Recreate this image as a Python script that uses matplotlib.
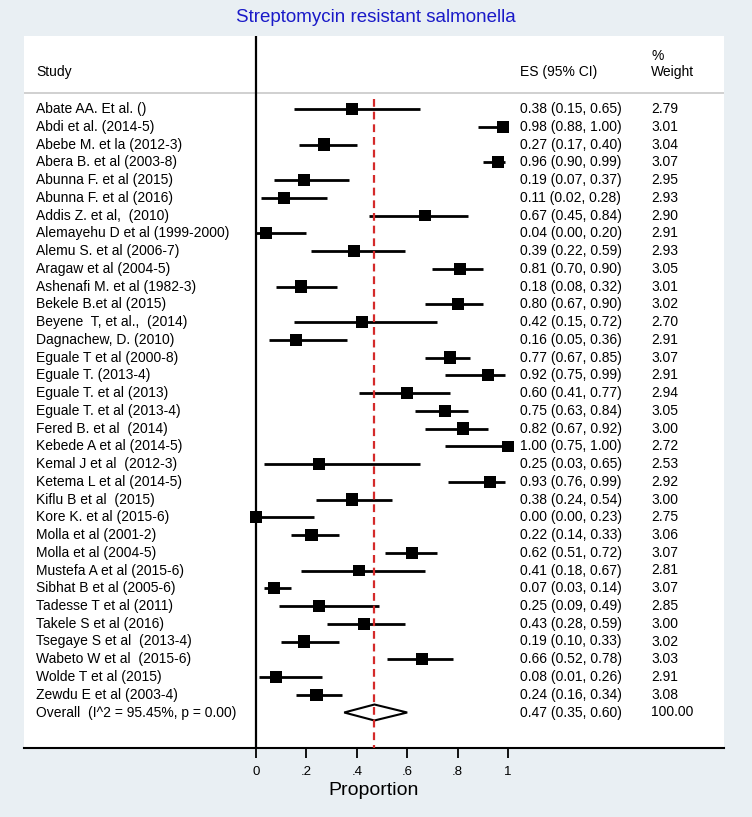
import matplotlib
matplotlib.use("Agg")
import matplotlib.pyplot as plt
from matplotlib.patches import Polygon
import numpy as np

plt.rcParams['font.family'] = ['Liberation Sans', 'DejaVu Sans']

studies = [
    "Abate AA. Et al. ()", "Abdi et al. (2014-5)", "Abebe M. et la (2012-3)",
    "Abera B. et al (2003-8)", "Abunna F. et al (2015)", "Abunna F. et al (2016)",
    "Addis Z. et al,  (2010)", "Alemayehu D et al (1999-2000)", "Alemu S. et al (2006-7)",
    "Aragaw et al (2004-5)", "Ashenafi M. et al (1982-3)", "Bekele B.et al (2015)",
    "Beyene  T, et al.,  (2014)", "Dagnachew, D. (2010)", "Eguale T et al (2000-8)",
    "Eguale T. (2013-4)", "Eguale T. et al (2013)", "Eguale T. et al (2013-4)",
    "Fered B. et al  (2014)", "Kebede A et al (2014-5)", "Kemal J et al  (2012-3)",
    "Ketema L et al (2014-5)", "Kiflu B et al  (2015)", "Kore K. et al (2015-6)",
    "Molla et al (2001-2)", "Molla et al (2004-5)", "Mustefa A et al (2015-6)",
    "Sibhat B et al (2005-6)", "Tadesse T et al (2011)", "Takele S et al (2016)",
    "Tsegaye S et al  (2013-4)", "Wabeto W et al  (2015-6)", "Wolde T et al (2015)",
    "Zewdu E et al (2003-4)",
]
es = [0.38, 0.98, 0.27, 0.96, 0.19, 0.11, 0.67, 0.04, 0.39, 0.81, 0.18, 0.80,
      0.42, 0.16, 0.77, 0.92, 0.60, 0.75, 0.82, 1.00, 0.25, 0.93, 0.38, 0.00,
      0.22, 0.62, 0.41, 0.07, 0.25, 0.43, 0.19, 0.66, 0.08, 0.24]
ci_low = [0.15, 0.88, 0.17, 0.90, 0.07, 0.02, 0.45, 0.00, 0.22, 0.70, 0.08, 0.67,
          0.15, 0.05, 0.67, 0.75, 0.41, 0.63, 0.67, 0.75, 0.03, 0.76, 0.24, 0.00,
          0.14, 0.51, 0.18, 0.03, 0.09, 0.28, 0.10, 0.52, 0.01, 0.16]
ci_high = [0.65, 1.00, 0.40, 0.99, 0.37, 0.28, 0.84, 0.20, 0.59, 0.90, 0.32, 0.90,
           0.72, 0.36, 0.85, 0.99, 0.77, 0.84, 0.92, 1.00, 0.65, 0.99, 0.54, 0.23,
           0.33, 0.72, 0.67, 0.14, 0.49, 0.59, 0.33, 0.78, 0.26, 0.34]
weights = [2.79, 3.01, 3.04, 3.07, 2.95, 2.93, 2.90, 2.91, 2.93, 3.05, 3.01, 3.02,
           2.70, 2.91, 3.07, 2.91, 2.94, 3.05, 3.00, 2.72, 2.53, 2.92, 3.00, 2.75,
           3.06, 3.07, 2.81, 3.07, 2.85, 3.00, 3.02, 3.03, 2.91, 3.08]
overall_label = "Overall  (I^2 = 95.45%, p = 0.00)"
overall_es, overall_lo, overall_hi, overall_w = 0.47, 0.35, 0.60, 100.00
xticks = [0, 0.2, 0.4, 0.6, 0.8, 1.0]
xtick_labels = ["0", ".2", ".4", ".6", ".8", "1"]

W, H = 752, 817
fig = plt.figure(figsize=(W / 100, H / 100), dpi=100)
fig.patch.set_facecolor('#e9eff3')

# white panel area
pl, pr, pt, pb = 24, 724, 36, 748
ax = fig.add_axes([pl / W, 1 - pb / H, (pr - pl) / W, (pb - pt) / H])
ax.set_facecolor('white')

x0pix, x1pix = 256, 508
ax.set_xlim((pl - x0pix) / (x1pix - x0pix), (pr - x0pix) / (x1pix - x0pix))
row0, rowh = 109, 17.75
ax.set_ylim((pb - row0) / rowh, (pt - row0) / rowh)

n = len(studies)
rows = np.arange(n)
txt_size = 10

for i in range(n):
    ax.plot([ci_low[i], ci_high[i]], [rows[i], rows[i]], color='black', lw=2.0,
            solid_capstyle='butt', zorder=3)
ax.scatter(es, rows, marker='s', s=np.array(weights) * 25, color='black',
           edgecolors='none', zorder=4)

# overall diamond
orow = n
h = 0.45
diamond = Polygon([[overall_lo, orow], [overall_es, orow - h], [overall_hi, orow],
                   [overall_es, orow + h]], closed=True, fill=False,
                  edgecolor='black', lw=1.5, zorder=4)
ax.add_patch(diamond)

# vertical lines
ax.axvline(0, color='black', lw=1.6, zorder=2)
ax.plot([overall_es, overall_es], [-0.55, (pb - row0) / rowh], color='#d42a2a',
        lw=1.6, dashes=(3.5, 2.2), zorder=5)

# header separator
ax.axhline((93 - row0) / rowh, color='#c8c8c8', lw=1.2, zorder=1)

# text columns
xs, xe, xw = (36 - pl) / (pr - pl), (520 - pl) / (pr - pl), (651 - pl) / (pr - pl)
tr = ax.get_yaxis_transform()
for i in range(n):
    ax.text(xs, rows[i], studies[i], transform=tr, va='center', ha='left', size=txt_size)
    ax.text(xe, rows[i], f"{es[i]:.2f} ({ci_low[i]:.2f}, {ci_high[i]:.2f})",
            transform=tr, va='center', ha='left', size=txt_size)
    ax.text(xw, rows[i], f"{weights[i]:.2f}", transform=tr, va='center', ha='left',
            size=txt_size)
ax.text(xs, orow, overall_label, transform=tr, va='center', ha='left', size=txt_size)
ax.text(xe, orow, f"{overall_es:.2f} ({overall_lo:.2f}, {overall_hi:.2f})",
        transform=tr, va='center', ha='left', size=txt_size)
ax.text(xw, orow, f"{overall_w:.2f}", transform=tr, va='center', ha='left', size=txt_size)

hy = (72 - row0) / rowh
ax.text(xs, hy, "Study", transform=tr, va='center', ha='left', size=txt_size)
ax.text(xe, hy, "ES (95% CI)", transform=tr, va='center', ha='left', size=txt_size)
ax.text(xw, hy, "Weight", transform=tr, va='center', ha='left', size=txt_size)
ax.text(xw, (56 - row0) / rowh, "%", transform=tr, va='center', ha='left', size=txt_size)

# axes styling
for s in ['top', 'right', 'left']:
    ax.spines[s].set_visible(False)
ax.spines['bottom'].set_linewidth(1.5)
ax.set_yticks([])
ax.set_xticks(xticks)
ax.set_xticklabels(xtick_labels, size=9.5)
ax.tick_params(axis='x', direction='out', length=7, width=1.3, pad=6)
ax.set_xlabel("Proportion", size=14, labelpad=3)

fig.text(0.5, 1 - 18 / H, "Streptomycin resistant salmonella", ha='center',
         va='center', size=13.5, color='#1a1ac8')

fig.savefig("out.png", dpi=100, facecolor=fig.get_facecolor())
